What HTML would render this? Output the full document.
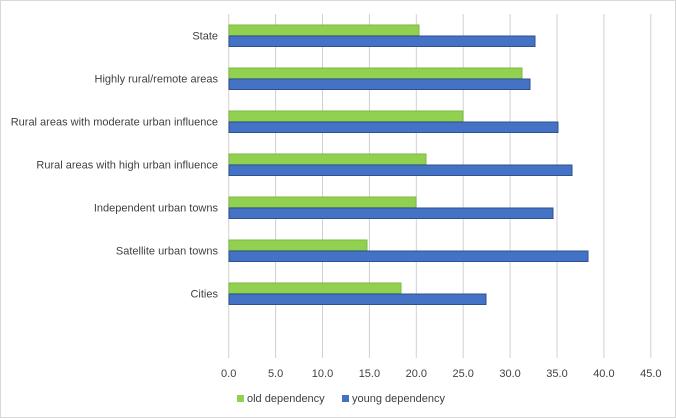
<!DOCTYPE html>
<html><head><style>
body{margin:0;background:#fff}
svg{display:block;font-family:"Liberation Sans",sans-serif}
</style></head><body>
<svg width="676" height="419" viewBox="0 0 676 419" xmlns="http://www.w3.org/2000/svg">
<rect x="0.5" y="0.5" width="675" height="417" fill="#fff" stroke="#d9d9d9"/>
<g stroke="#d0d0d0" stroke-width="1">
<line x1="228.7" y1="14" x2="228.7" y2="358"/>
<line x1="275.6" y1="14" x2="275.6" y2="358"/>
<line x1="322.5" y1="14" x2="322.5" y2="358"/>
<line x1="369.4" y1="14" x2="369.4" y2="358"/>
<line x1="416.3" y1="14" x2="416.3" y2="358"/>
<line x1="463.2" y1="14" x2="463.2" y2="358"/>
<line x1="510.1" y1="14" x2="510.1" y2="358"/>
<line x1="557" y1="14" x2="557" y2="358"/>
<line x1="603.9" y1="14" x2="603.9" y2="358"/>
<line x1="650.8" y1="14" x2="650.8" y2="358"/>
</g>
<g stroke-width="1">
<g fill="#92d050" stroke="#7cb944">
<rect x="229" y="25" width="190" height="10.5"/>
<rect x="229" y="68" width="293" height="10.5"/>
<rect x="229" y="111" width="234" height="10.5"/>
<rect x="229" y="154" width="197" height="10.5"/>
<rect x="229" y="197" width="187" height="10.5"/>
<rect x="229" y="240" width="138" height="10.5"/>
<rect x="229" y="283" width="172" height="10.5"/>
</g>
<g fill="#4472c4" stroke="#2f528f">
<rect x="229" y="36" width="306" height="10.5"/>
<rect x="229" y="79" width="301" height="10.5"/>
<rect x="229" y="122" width="329" height="10.5"/>
<rect x="229" y="165" width="343" height="10.5"/>
<rect x="229" y="208" width="324" height="10.5"/>
<rect x="229" y="251" width="359" height="10.5"/>
<rect x="229" y="294" width="257" height="10.5"/>
</g>
</g>
<g font-size="11" fill="#404040" text-anchor="end">
<text x="218" y="39.5">State</text>
<text x="218" y="82.5">Highly rural/remote areas</text>
<text x="218" y="125.5">Rural areas with moderate urban influence</text>
<text x="218" y="168.5">Rural areas with high urban influence</text>
<text x="218" y="211.5">Independent urban towns</text>
<text x="218" y="254.5">Satellite urban towns</text>
<text x="218" y="297.5">Cities</text>
</g>
<g font-size="11" fill="#404040" text-anchor="middle">
<text x="228.7" y="377">0.0</text>
<text x="275.6" y="377">5.0</text>
<text x="322.5" y="377">10.0</text>
<text x="369.4" y="377">15.0</text>
<text x="416.3" y="377">20.0</text>
<text x="463.2" y="377">25.0</text>
<text x="510.1" y="377">30.0</text>
<text x="557" y="377">35.0</text>
<text x="603.9" y="377">40.0</text>
<text x="650.8" y="377">45.0</text>
</g>
<rect x="237" y="395" width="7" height="7" fill="#92d050"/>
<text x="247" y="402" font-size="11" fill="#404040">old dependency</text>
<rect x="342" y="395" width="7" height="7" fill="#4472c4"/>
<text x="352" y="402" font-size="11" fill="#404040">young dependency</text>
</svg>
</body></html>
